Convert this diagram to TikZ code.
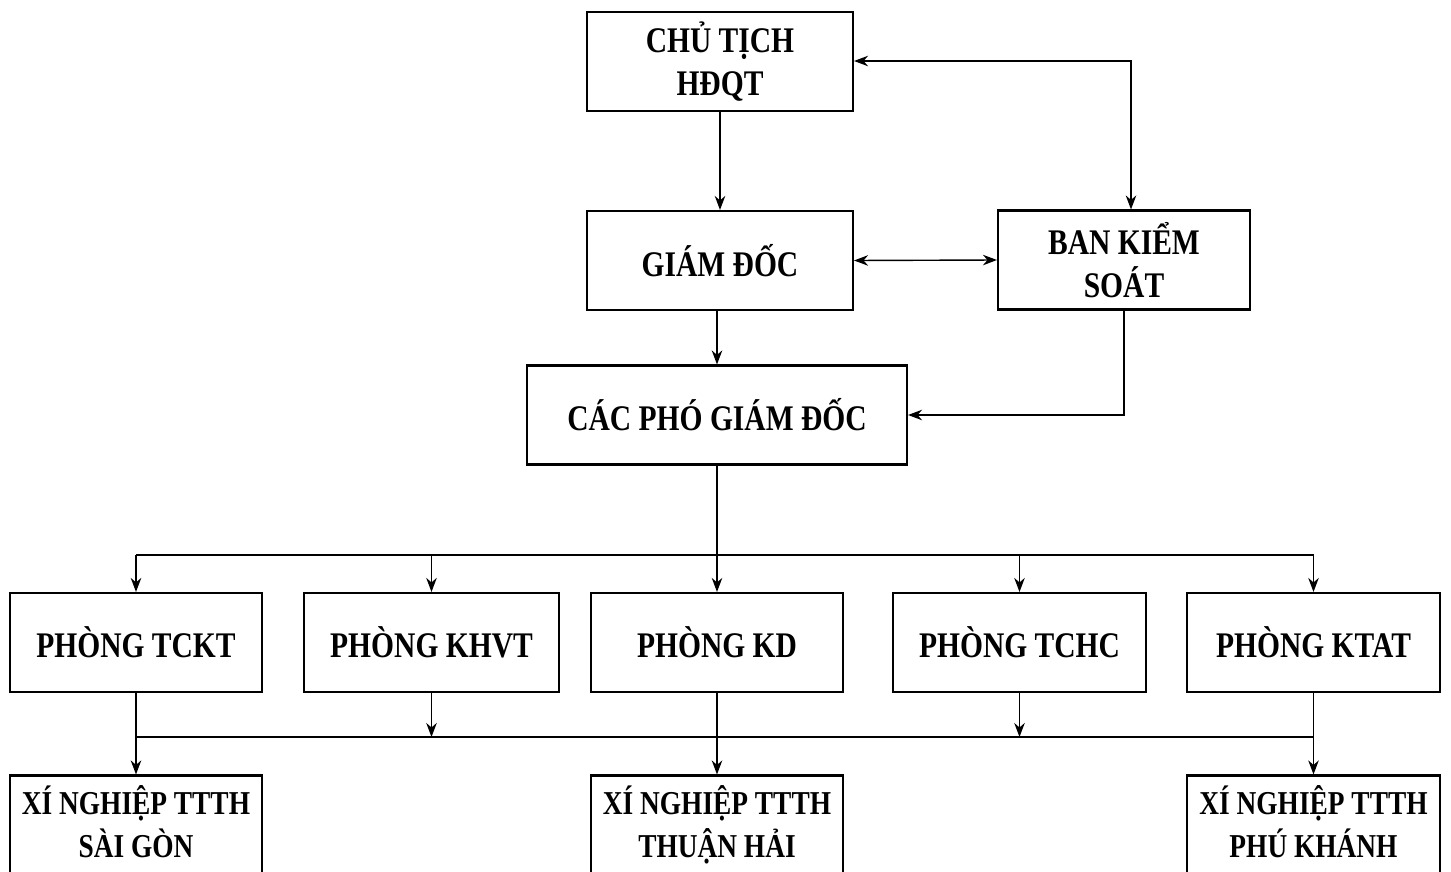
\documentclass[tikz,border=0pt]{standalone}
\usepackage{fontspec}
\setmainfont{Liberation Serif}[FakeStretch=0.82]
\usetikzlibrary{arrows.meta}
\tikzset{
  box/.style={draw, line width=1.2pt, align=center, inner sep=0pt,
    minimum height=99*0.02cm, font=\bfseries\fontsize{20.5}{24.5}\selectfont},
  unit/.style={box, font=\bfseries\fontsize{19}{24.5}\selectfont},
  link/.style={line width=0.8pt, -{Stealth[length=8pt,width=6pt]}}
}
\begin{document}
\begin{tikzpicture}[x=0.02cm, y=-0.02cm, link]
  \useasboundingbox (0,0) rectangle (1451,872);
  %nodes
  \node[box, minimum width=266*0.02cm] at (720,61.5) (chair) {CHỦ TỊCH\\HĐQT};
  \node[box, minimum width=266*0.02cm] at (720,260.5) (gd) {GIÁM ĐỐC};
  \node[box, minimum width=252*0.02cm] at (1124,260) (bks) {BAN KIỂM\\SOÁT};
  \node[box, minimum width=380*0.02cm] at (717,415) (pgd) {CÁC PHÓ GIÁM ĐỐC};
  \node[box, minimum width=252*0.02cm] at (136,642.5) (tckt) {PHÒNG TCKT};
  \node[box, minimum width=255*0.02cm] at (431.5,642.5) (khvt) {PHÒNG KHVT};
  \node[box, minimum width=252*0.02cm] at (717,642.5) (kd) {PHÒNG KD};
  \node[box, minimum width=253*0.02cm] at (1019.5,642.5) (tchc) {PHÒNG TCHC};
  \node[box, minimum width=253*0.02cm] at (1313.5,642.5) (ktat) {PHÒNG KTAT};
  \node[unit, minimum width=252*0.02cm] at (136,825) (xnsg) {XÍ NGHIỆP TTTH\\SÀI GÒN\vphantom{Ậ}};
  \node[unit, minimum width=252*0.02cm] at (717,825) (xnth) {XÍ NGHIỆP TTTH\\THUẬN HẢI};
  \node[unit, minimum width=253*0.02cm] at (1313.5,825) (xnpk) {XÍ NGHIỆP TTTH\\PHÚ KHÁNH\vphantom{Ậ}};
  \coordinate (top) at (1131,61);
  \coordinate (bus) at (717,555);
  \coordinate (low) at (717,737);
  %top part
  \draw (chair.south) -- (gd.north);
  \draw[{Stealth[length=8pt,width=6pt]}-{Stealth[length=8pt,width=6pt]}] (gd.east) -- (bks.west);
  \draw[{Stealth[length=8pt,width=6pt]}-{Stealth[length=8pt,width=6pt]}] (chair.east |- top) -- (top) -- (top |- bks.north);
  \draw (gd.south -| pgd.north) -- (pgd.north);
  \draw (bks.south) |- (pgd.east);
  %upper bus
  \draw[-] (pgd.south) -- (bus);
  \draw[-] (tckt.north |- bus) -- (ktat.north |- bus);
  \foreach \p in {tckt,khvt,kd,tchc,ktat}
    \draw (\p.north |- bus) -- (\p.north);
  %lower bus
  \draw[-] (tckt.south |- low) -- (ktat.south |- low);
  \draw (khvt.south) -- (khvt.south |- low);
  \draw (tchc.south) -- (tchc.south |- low);
  \draw (tckt.south) -- (xnsg.north);
  \draw (kd.south) -- (xnth.north);
  \draw (ktat.south) -- (xnpk.north);
\end{tikzpicture}
\end{document}
